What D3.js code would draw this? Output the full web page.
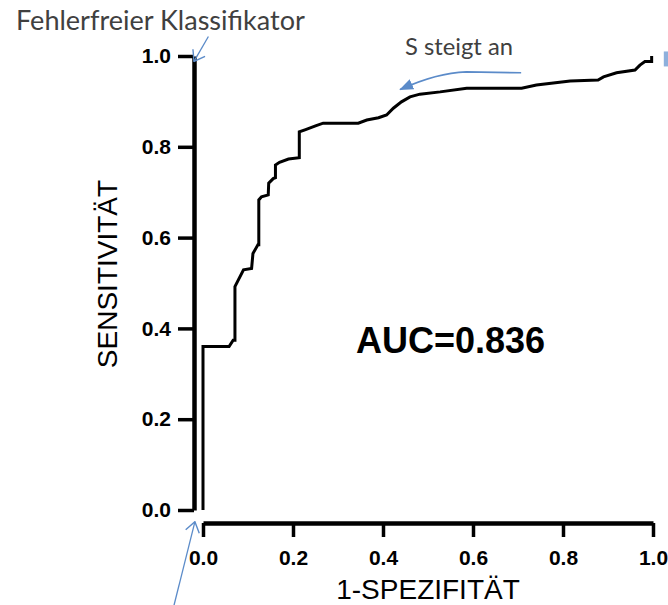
<!DOCTYPE html>
<html>
<head>
<meta charset="utf-8">
<script src="https://cdn.jsdelivr.net/npm/d3@7"></script>
<style>
    body { margin: 0; background: #fff; }
    #chart svg { display: block; }
</style>
</head>
<body>
<div id="chart"></div>
<script>
// ROC curve
const falsePositiveRates = [
    0, 0, 0.058, 0.067, 0.071, 0.071, 0.09, 0.108, 0.111, 0.122, 0.124, 0.124,
    0.13, 0.145, 0.146, 0.156, 0.161, 0.161, 0.17, 0.19, 0.214, 0.214, 0.228,
    0.25, 0.267, 0.345, 0.364, 0.39, 0.408, 0.423, 0.441, 0.46, 0.482, 0.527,
    0.586, 0.708, 0.741, 0.816, 0.878, 0.89, 0.919, 0.96, 0.971, 0.982, 0.997, 0.997
];
const sensitivities = [
    0, 0.36, 0.36, 0.374, 0.374, 0.492, 0.529, 0.532, 0.565, 0.584, 0.584, 0.683,
    0.69, 0.694, 0.72, 0.73, 0.732, 0.76, 0.766, 0.773, 0.776, 0.833, 0.838,
    0.846, 0.852, 0.852, 0.859, 0.864, 0.87, 0.885, 0.899, 0.91, 0.916, 0.921,
    0.929, 0.929, 0.936, 0.945, 0.947, 0.954, 0.963, 0.969, 0.98, 0.988, 0.988, 1.0
];
const xTickValues = [0, 0.2, 0.4, 0.6, 0.8, 1.0];
const yTickValues = [0, 0.2, 0.4, 0.6, 0.8, 1.0];
const xAxisTitle = '1-SPEZIFITÄT';
const yAxisTitle = 'SENSITIVITÄT';
const aucLabel = 'AUC=0.836';
const perfectClassifierLabel = 'Fehlerfreier Klassifikator';
const thresholdLabel = 'S steigt an';

const WIDTH = 668;
const HEIGHT = 605;
const PLOT_LEFT = 203;
const PLOT_RIGHT = 653;
const PLOT_TOP = 56;
const PLOT_BOTTOM = 510;
const Y_AXIS_X = 194;
const X_AXIS_Y = 523;
const AXIS_FONT = '"Liberation Sans", Arial, sans-serif';
const NOTE_FONT = 'Lato, "Open Sans", sans-serif';
const NOTE_COLOR = '#404040';
const ARROW_COLOR = '#5b8bc9';
const OPEN_ARROW_ID = 'open-arrow';
const FILLED_ARROW_ID = 'filled-arrow';

class RocChart {

    init() {
        this.x = d3.scaleLinear().domain([0, 1]).range([PLOT_LEFT, PLOT_RIGHT]);
        this.y = d3.scaleLinear().domain([0, 1]).range([PLOT_BOTTOM, PLOT_TOP]);
        this.svg = d3.select('#chart').append('svg')
            .attr('width', WIDTH)
            .attr('height', HEIGHT);
        this.defineArrowMarkers();
        this.drawAxes();
        this.drawCurve();
        this.drawAnnotations();
    }

    defineArrowMarkers() {
        const defs = this.svg.append('defs');
        defs.append('marker')
            .attr('id', OPEN_ARROW_ID)
            .attr('viewBox', '-1 -8 12 16')
            .attr('refX', 10)
            .attr('refY', 0)
            .attr('markerUnits', 'userSpaceOnUse')
            .attr('markerWidth', 12)
            .attr('markerHeight', 16)
            .attr('orient', 'auto')
            .append('path')
            .attr('d', 'M0,-7L10,0L0,7')
            .attr('fill', 'none')
            .attr('stroke', ARROW_COLOR)
            .attr('stroke-width', 1.4);
        defs.append('marker')
            .attr('id', FILLED_ARROW_ID)
            .attr('viewBox', '0 -6 14 12')
            .attr('refX', 13)
            .attr('refY', 0)
            .attr('markerUnits', 'userSpaceOnUse')
            .attr('markerWidth', 14)
            .attr('markerHeight', 12)
            .attr('orient', 'auto')
            .append('path')
            .attr('d', 'M0,-5.5L14,0L0,5.5Z')
            .attr('fill', ARROW_COLOR);
    }

    drawAxes() {
        const format = d3.format('.1f');
        const xAxis = this.svg.append('g')
            .attr('transform', `translate(0,${X_AXIS_Y})`)
            .call(d3.axisBottom(this.x)
                .tickValues(xTickValues)
                .tickFormat(format)
                .tickSize(14)
                .tickSizeOuter(0)
                .tickPadding(13));
        const yAxis = this.svg.append('g')
            .attr('transform', `translate(${Y_AXIS_X},0)`)
            .call(d3.axisLeft(this.y)
                .tickValues(yTickValues)
                .tickFormat(format)
                .tickSize(16)
                .tickSizeOuter(0)
                .tickPadding(7));
        [xAxis, yAxis].forEach(axis => {
            axis.select('.domain').attr('stroke', '#000').attr('stroke-width', 4.5);
            axis.selectAll('.tick line').attr('stroke', '#000').attr('stroke-width', 3.5);
            axis.selectAll('.tick text')
                .attr('fill', '#000')
                .style('font-family', AXIS_FONT)
                .style('font-size', '21px')
                .style('font-weight', 'bold');
        });

        this.svg.append('text')
            .attr('x', (PLOT_LEFT + PLOT_RIGHT) / 2)
            .attr('y', 599)
            .attr('text-anchor', 'middle')
            .style('font-family', AXIS_FONT)
            .style('font-size', '28px')
            .text(xAxisTitle);
        this.svg.append('text')
            .attr('transform', 'translate(117,274) rotate(-90)')
            .attr('text-anchor', 'middle')
            .style('font-family', AXIS_FONT)
            .style('font-size', '28px')
            .text(yAxisTitle);
    }

    drawCurve() {
        const points = falsePositiveRates.map((fpr, i) => [fpr, sensitivities[i]]);
        const line = d3.line()
            .x(d => this.x(d[0]))
            .y(d => this.y(d[1]));
        this.svg.append('path')
            .datum(points)
            .attr('d', line)
            .attr('fill', 'none')
            .attr('stroke', '#000')
            .attr('stroke-width', 3);

        this.svg.append('text')
            .attr('x', this.x(0.55))
            .attr('y', 353)
            .attr('text-anchor', 'middle')
            .style('font-family', AXIS_FONT)
            .style('font-size', '36px')
            .style('font-weight', 'bold')
            .text(aucLabel);
    }

    drawAnnotations() {
        const x = this.x;
        const y = this.y;

        // Calibri is not installed, so the substitute is scaled to the width the label had
        this.addNote(perfectClassifierLabel, 16, 30, 289);
        this.addNote(thresholdLabel, 405, 55, 108);

        // arrow to the top of the y axis
        this.addArrow([[x(0.012), y(1.043)], [x(-0.02), y(0.988)]], OPEN_ARROW_ID);
        // arrow to the origin, coming from below the picture
        this.addArrow([[x(-0.067), y(-0.22)], [x(-0.018), y(-0.026)]], OPEN_ARROW_ID);

        // curved arrow along the flat part of the curve
        const path = d3.path();
        path.moveTo(x(0.707), y(0.963));
        path.lineTo(x(0.585), y(0.965));
        path.quadraticCurveTo(x(0.52), y(0.963), x(0.438), y(0.926));
        this.svg.append('path')
            .attr('d', path.toString())
            .attr('fill', 'none')
            .attr('stroke', ARROW_COLOR)
            .attr('stroke-width', 1.6)
            .attr('marker-end', `url(#${FILLED_ARROW_ID})`);

        // edge of a shape that is cut off at the right border
        this.svg.append('rect')
            .attr('x', x(1.024))
            .attr('y', y(1.01))
            .attr('width', 8)
            .attr('height', y(0.977) - y(1.01))
            .attr('fill', '#8eb0dc');
    }

    addNote(label, left, baseline, targetWidth) {
        const note = this.svg.append('text')
            .attr('x', left)
            .attr('y', baseline)
            .attr('fill', NOTE_COLOR)
            .style('font-family', NOTE_FONT)
            .style('font-size', '20px')
            .text(label);
        const width = note.node().getComputedTextLength();
        note.style('font-size', `${20 * targetWidth / width}px`);
    }

    addArrow(ends, markerId) {
        this.svg.append('line')
            .attr('x1', ends[0][0])
            .attr('y1', ends[0][1])
            .attr('x2', ends[1][0])
            .attr('y2', ends[1][1])
            .attr('stroke', ARROW_COLOR)
            .attr('stroke-width', 1.3)
            .attr('marker-end', `url(#${markerId})`);
    }
}

new RocChart().init();
</script>
</body>
</html>
